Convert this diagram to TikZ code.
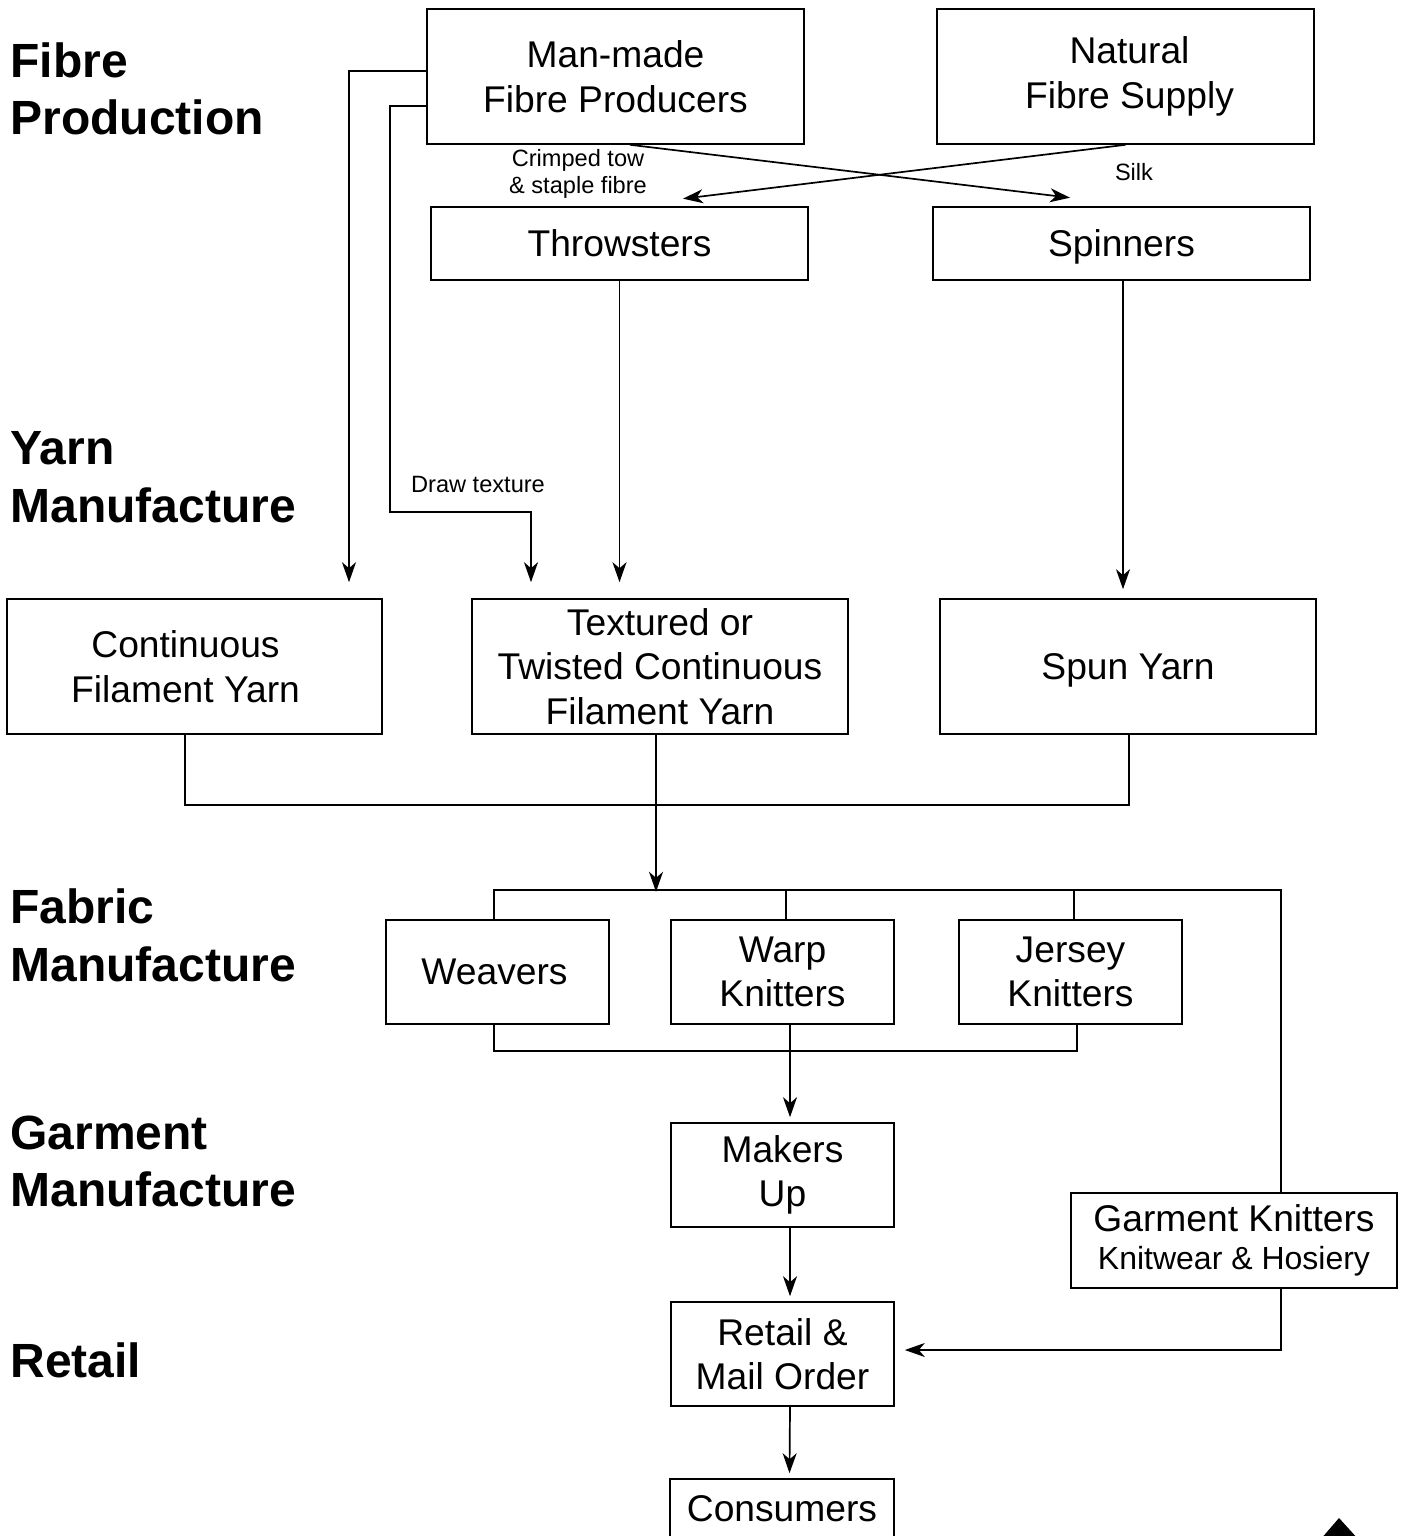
\documentclass[tikz,border=0pt]{standalone}
\usepackage{fontspec}
\setmainfont{Liberation Sans}
\usetikzlibrary{calc,arrows.meta}
\tikzset{
  box/.style={draw, line width=0.8pt, inner sep=0pt, align=center,
    font=\fontsize{18.6}{22.3}\selectfont},
  big/.style={minimum width=188.5pt, minimum height=67.5pt},
  flat/.style={minimum width=188.5pt, minimum height=36.5pt},
  mid/.style={minimum width=111.5pt, minimum height=52pt},
  conn/.style={line width=0.85pt},
  arr/.style={conn, -{Stealth[length=10pt,width=7pt,inset=3pt]}},
  head/.style={anchor=west, inner sep=0pt, align=left,
    font=\fontsize{24}{28.8}\selectfont\bfseries},
  small/.style={inner sep=0pt, align=center, font=\fontsize{11.8}{13.5}\selectfont}
}
\begin{document}
\begin{tikzpicture}[x=0.5pt, y=-0.5pt]
\useasboundingbox (0,0) rectangle (1404,1536);
\clip (0,0) rectangle (1404,1536);
% headings
\node[head] (h1) at (10,89) {Fibre\\Production};
\node[head] (h2) at (10,477.5) {Yarn\\Manufacture};
\node[head] (h3) at (10,935.5) {Fabric\\Manufacture};
\node[head] (h4) at (10,1161.5) {Garment\\Manufacture};
\node[head] (h5) at (10,1360) {Retail};
% boxes
\node[box,big] (mm) at (615.5,76.5) {Man-made\\Fibre Producers};
\node[box,big] (nat) at (1125.5,76.5) {Natural\hspace*{-4pt}\\Fibre Supply\hspace*{-4pt}};
\node[box,flat] (thr) at (619.5,243.5) {Throwsters};
\node[box,flat,text depth=0pt] (spi) at (1121.5,243.5) {Spinners};
\node[box,big,minimum width=187.5pt] (cfy) at (194.5,666.5) {Continuous\hspace*{9pt}\\Filament Yarn\hspace*{9pt}};
\node[box,big,minimum width=188pt] (tex) at (660,666.5) {Textured or\\Twisted Continuous\\Filament Yarn};
\node[box,big,minimum width=188pt,text depth=0pt] (spun) at (1128,666.5) {Spun Yarn};
\node[box,mid] (wea) at (497.5,972) {Weavers\hspace*{3pt}};
\node[box,mid] (warp) at (782.5,972) {Warp\\Knitters};
\node[box,mid] (jer) at (1070.5,972) {Jersey\\Knitters};
\node[box,mid] (mak) at (782.5,1175) {Makers\\Up};
\node[box,minimum width=163pt,minimum height=47.5pt] (gk) at (1234,1240.5)
  {Garment Knitters\\[-3pt]{\fontsize{16}{19}\selectfont Knitwear \& Hosiery}};
\node[box,mid] (ret) at (782.5,1354) {Retail \&\\Mail Order};
\node[box,minimum width=112pt,minimum height=30pt] (con) at (782,1509) {Consumers};
% labels
\node[small] (l1) at (578,174) {Crimped tow\\\& staple fibre};
\node[small] (l2) at (1134,172) {Silk};
\node[small] (l3) at (478,484) {Draw texture};
% connectors
\coordinate (dt) at (390,512);
\draw[arr] ($(mm.west)+(0,-5.5)$) -| ($(cfy.north)+(154.5,-16)$);
\draw[arr] ($(mm.west)+(0,29.5)$) -| (dt) -| ($(tex.north)+(-129,-16)$);
\draw[arr] ($(mm.south)+(14.5,0)$) -- ($(spi.north)+(-51.5,-8.5)$);
\draw[arr] (nat.south) -- ($(thr.north)+(63.5,-7.5)$);
\draw[arr] (thr.south) -- ($(thr.south|-tex.north)+(0,-16)$);
\draw[arr] ($(spi.south)+(1.5,0)$) -- ($(spi.south|-spun.north)+(1.5,-9)$);
\draw[conn] ($(cfy.south)+(-9.5,0)$) -- ++(0,70) -| ($(spun.south)+(1,0)$);
\draw[arr] ($(tex.south)+(-4,0)$) -- ++(0,157);
\draw[conn] ($(wea.north)+(-3.5,0)$) -- ++(0,-29) -| ($(gk.north)+(47,0)$);
\draw[conn] ($(warp.north)+(3.5,0)$) -- ++(0,-29);
\draw[conn] ($(jer.north)+(3.5,0)$) -- ++(0,-29);
\draw[conn] ($(wea.south)+(-3.5,0)$) -- ++(0,26) -| ($(jer.south)+(6.5,0)$);
\draw[arr] ($(warp.south)+(7.5,0)$) -- ($(mak.north)+(7.5,-5)$);
\draw[arr] ($(mak.south)+(7.5,0)$) -- ($(ret.north)+(7.5,-5)$);
\draw[arr] ($(gk.south)+(47,0)$) |- ($(ret.east)+(10,-4)$);
\draw[arr] ($(ret.south)+(7.5,0)$) -- ($(con.north)+(7.5,-5)$);
% corner mark
\fill (1320,1540) -- (1339,1518) -- (1359,1540) -- cycle;
\end{tikzpicture}
\end{document}
